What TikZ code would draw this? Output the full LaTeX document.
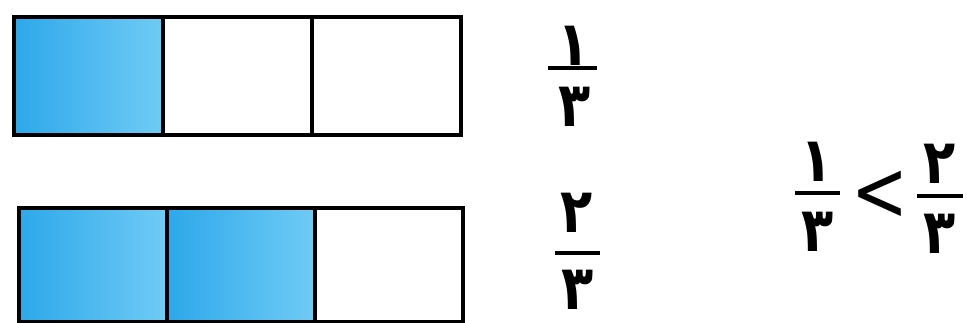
\documentclass[tikz,border=0pt]{standalone}
\usepackage{fontspec}
\newfontfamily\fafont[Script=Arabic]{DejaVu Sans}
\newfontfamily\symfont{DejaVu Sans}
\definecolor{blueL}{RGB}{45,168,234}
\definecolor{blueR}{RGB}{112,203,245}
\tikzset{
  cell/.style={draw=black, line width=4pt, inner sep=0pt, minimum width=#1pt, anchor=north west},
  cellA/.style={cell=149, minimum height=118pt},
  cellB/.style={cell=148, minimum height=114pt},
  shaded/.style={left color=blueL, right color=blueR},
  digit/.style={inner sep=0pt, xscale=0.85, font=\fafont\bfseries\fontsize{62}{66}\selectfont},
  fbar/.style={line width=4pt},
  rel/.style={inner sep=0pt, yscale=1.25, font=\symfont\fontsize{68}{72}\selectfont}
}
\begin{document}
\begin{tikzpicture}[x=1pt,y=-1pt]
\useasboundingbox (0,0) rectangle (967,323);
% top bar
\node[cellA, shaded] (a1) at (12,15) {};
\node[cellA] (a2) at (161,15) {};
\node[cellA] (a3) at (310,15) {};
% bottom bar
\node[cellB, shaded] (b1) at (17,206) {};
\node[cellB, shaded] (b2) at (165,206) {};
\node[cellB] (b3) at (313,206) {};
% fractions next to bars
\node[digit] (n1) at (574,46) {۱};
\coordinate (f1l) at (548,68); \coordinate (f1r) at (597,68);
\draw[fbar] (f1l) -- (f1r);
\node[digit] (d1) at (575,107) {۳};
\node[digit] (n2) at (577,213) {۲};
\coordinate (f2l) at (555,253); \coordinate (f2r) at (600,253);
\draw[fbar] (f2l) -- (f2r);
\node[digit] (d2) at (578,290) {۳};
% comparison
\node[digit] (cn1) at (817,162) {۱};
\coordinate (c1l) at (795,193); \coordinate (c1r) at (840,193);
\draw[fbar] (c1l) -- (c1r);
\node[digit] (cd1) at (818,232) {۳};
\node[rel] (lt) at (880,196) {<};
\node[digit] (cn2) at (940,164) {۲};
\coordinate (c2l) at (917,196); \coordinate (c2r) at (963,196);
\draw[fbar] (c2l) -- (c2r);
\node[digit] (cd2) at (940,234) {۳};
\end{tikzpicture}
\end{document}
